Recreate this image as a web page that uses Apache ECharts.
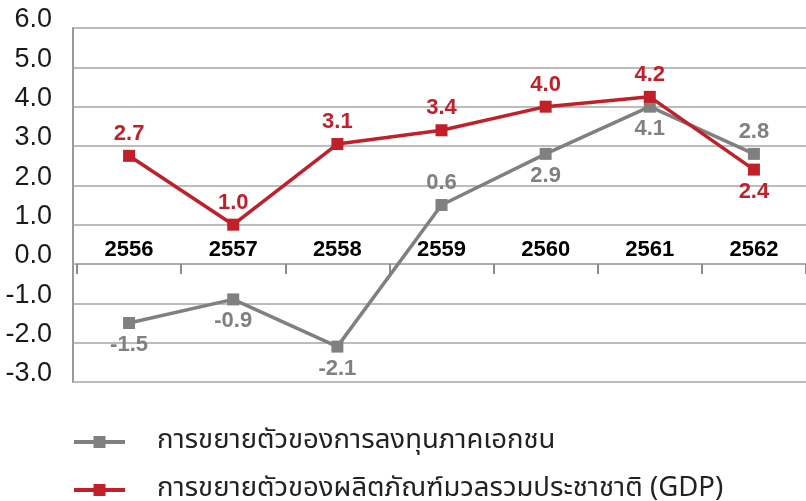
<!DOCTYPE html>
<html>
<head>
<meta charset="utf-8">
<script src="https://cdn.jsdelivr.net/npm/echarts@6/dist/echarts.min.js"></script>
<style>
html,body{margin:0;padding:0;background:#fff;}
#chart{width:806px;height:501px;}
</style>
</head>
<body>
<div id="chart"></div>
<script>
// Categories (Thai Buddhist years)
const years = ['2556', '2557', '2558', '2559', '2560', '2561', '2562'];
// Series names
const nameInvest = 'การขยายตัวของการลงทุนภาคเอกชน';
const nameGDP = 'การขยายตัวของผลิตภัณฑ์มวลรวมประชาชาติ (GDP)';
// Values as plotted in the picture
const investValues = [-1.5, -0.9, -2.1, 1.5, 2.8, 4.0, 2.8];
const gdpValues = [2.75, 1.0, 3.05, 3.4, 4.0, 4.25, 2.4];
// Data label texts as printed in the picture
const investLabels = ['-1.5', '-0.9', '-2.1', '0.6', '2.9', '4.1', '2.8'];
const gdpLabels = ['2.7', '1.0', '3.1', '3.4', '4.0', '4.2', '2.4'];
// Label side for each point
const investLabelPos = ['bottom', 'bottom', 'bottom', 'top', 'bottom', 'bottom', 'top'];
const gdpLabelPos = ['top', 'top', 'top', 'top', 'top', 'top', 'bottom'];
// Y axis ticks
const yMin = -3, yMax = 6, yStep = 1;

const RED = '#c21f2a';
const GRAY = '#808080';
const GRID_TOP = 28, GRID_BOTTOM = 119, CHART_H = 501;

function buildData(values, labels, positions) {
  return values.map((v, i) => ({
    value: v,
    label: { position: positions[i], formatter: labels[i] }
  }));
}

// distance from the grid bottom up to the zero line
const plotH = CHART_H - GRID_TOP - GRID_BOTTOM;
const zeroFromBottom = plotH * (0 - yMin) / (yMax - yMin);

const legendText = {
  fontFamily: '"Noto Sans Thai", "Noto Sans", sans-serif',
  fontSize: 27.5,
  color: '#222',
  lineHeight: 32,
  padding: [0, 0, 0, 27]
};
function legendFor(name, top) {
  return {
    orient: 'vertical',
    left: 72,
    top: top,
    padding: 0,
    itemWidth: 51,
    itemHeight: 15,
    lineStyle: { width: 4 },
    data: [name],
    textStyle: legendText
  };
}

const chart = echarts.init(document.getElementById('chart'), null, { renderer: 'canvas' });
chart.setOption({
  animation: false,
  backgroundColor: '#ffffff',
  grid: { left: 77, right: -10, top: GRID_TOP, bottom: GRID_BOTTOM, containLabel: false },
  legend: [legendFor(nameInvest, 426), legendFor(nameGDP, 474)],
  xAxis: {
    type: 'category',
    data: years,
    boundaryGap: true,
    offset: -zeroFromBottom,
    axisLine: { onZero: false, lineStyle: { color: '#a6a6a6', width: 1.5 } },
    axisTick: { show: true, interval: 0, length: 10, lineStyle: { color: '#8c8c8c', width: 2 } },
    axisLabel: {
      inside: true,
      margin: 3,
      interval: 0,
      fontFamily: '"Liberation Sans", Arial, sans-serif',
      fontWeight: 'bold',
      fontSize: 22,
      color: '#000'
    },
    splitLine: { show: false }
  },
  yAxis: {
    type: 'value',
    min: yMin,
    max: yMax,
    interval: yStep,
    offset: 4,
    axisLine: { show: true, lineStyle: { color: '#999', width: 2 } },
    axisTick: { show: true, inside: true, length: 4, lineStyle: { color: '#a6a6a6', width: 1.5 } },
    axisLabel: {
      margin: 21,
      fontFamily: '"Liberation Sans", Arial, sans-serif',
      fontSize: 27,
      color: '#1a1a1a',
      verticalAlign: 'bottom',
      lineHeight: 16,
      formatter: v => v.toFixed(1)
    },
    splitLine: { show: true, lineStyle: { color: '#a6a6a6', width: 1.5 } }
  },
  series: [
    {
      name: nameInvest,
      type: 'line',
      data: buildData(investValues, investLabels, investLabelPos),
      symbol: 'rect',
      symbolSize: 12,
      lineStyle: { color: GRAY, width: 3.5 },
      itemStyle: { color: GRAY },
      label: {
        show: true,
        distance: 5,
        fontFamily: '"Liberation Sans", Arial, sans-serif',
        fontWeight: 'bold',
        fontSize: 22,
        color: GRAY
      },
      z: 2
    },
    {
      name: nameGDP,
      type: 'line',
      data: buildData(gdpValues, gdpLabels, gdpLabelPos),
      symbol: 'rect',
      symbolSize: 12,
      lineStyle: { color: RED, width: 3.5 },
      itemStyle: { color: RED },
      label: {
        show: true,
        distance: 5,
        fontFamily: '"Liberation Sans", Arial, sans-serif',
        fontWeight: 'bold',
        fontSize: 22,
        color: RED
      },
      z: 3
    }
  ]
});
</script>
</body>
</html>
